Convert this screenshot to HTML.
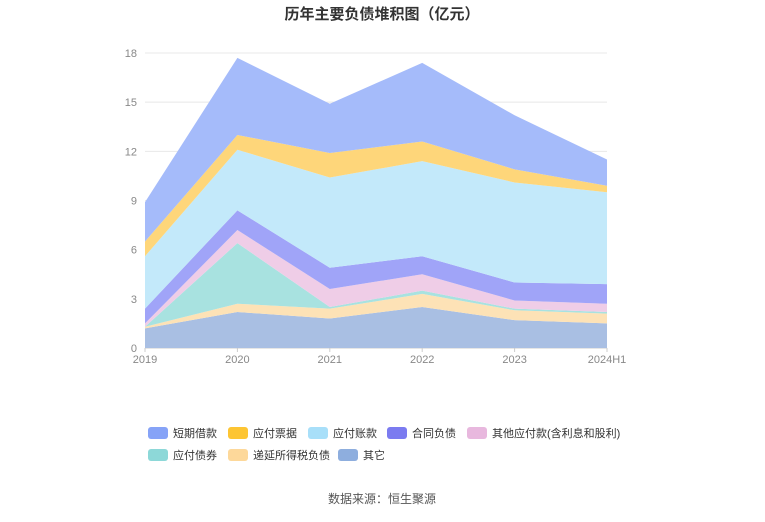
<!DOCTYPE html>
<html><head><meta charset="utf-8"><style>
body{margin:0;background:#fff;font-family:"Liberation Sans","Noto Sans CJK SC",sans-serif;}
</style></head><body>
<svg id="chart" width="765" height="517" xmlns="http://www.w3.org/2000/svg" style="font-family:'Liberation Sans','Noto Sans CJK SC',sans-serif">
<text x="382" y="19" text-anchor="middle" font-size="15" font-weight="bold" fill="#333">历年主要负债堆积图（亿元）</text>
<g id="grid"></g><g id="areas"></g><g id="axes"></g><g id="legend"></g>
<text x="382" y="503" text-anchor="middle" font-size="12" fill="#555">数据来源：恒生聚源</text>
</svg>
<script>
const categories=["2019","2020","2021","2022","2023","2024H1"];
const seriesNames=["其它","递延所得税负债","应付债券","其他应付款(含利息和股利)","合同负债","应付账款","应付票据","短期借款"];
const s_qita=[1.2,2.2,1.8,2.5,1.7,1.5];
const s_diyan=[0.1,0.5,0.6,0.8,0.6,0.6];
const s_zhaiquan=[0.0,3.7,0.1,0.2,0.1,0.1];
const s_qitayingfu=[0.2,0.8,1.1,1.0,0.5,0.5];
const s_hetong=[0.9,1.2,1.3,1.1,1.1,1.2];
const s_zhangkuan=[3.2,3.7,5.5,5.8,6.1,5.6];
const s_piaoju=[0.9,0.9,1.5,1.2,0.8,0.4];
const s_duanqi=[2.4,4.7,3.0,4.8,3.3,1.6];
const yTicks=[0,3,6,9,12,15,18];
const seriesData=[s_qita,s_diyan,s_zhaiquan,s_qitayingfu,s_hetong,s_zhangkuan,s_piaoju,s_duanqi];
const fills=["#a9bfe3","#fde2b6","#a8e2e0","#efcde7","#a0a4f8","#c3e9fa","#fed67a","#a5bbfa"];
const legendColors=["#8eaede","#fdd89a","#8dd8d8","#e8b8de","#7b7bf0","#a8dff9","#fdc533","#86a3f7"];
const NS="http://www.w3.org/2000/svg";
const x0=145,x1=607,yB=348,yT=53,yMax=18;
const xs=i=>x0+(x1-x0)*i/(categories.length-1);
const ys=v=>yB-(yB-yT)*v/yMax;
function mk(tag,attrs,parent){const e=document.createElementNS(NS,tag);for(const k in attrs)e.setAttribute(k,attrs[k]);parent.appendChild(e);return e;}
const grid=document.getElementById('grid'),axes=document.getElementById('axes'),areas=document.getElementById('areas'),legend=document.getElementById('legend');
yTicks.forEach(t=>{
 const l=mk('line',{x1:x0,x2:x1,y1:ys(t),y2:ys(t),stroke:t===0?'#ccc':'#e8e8e8'},grid);
 
 
 const tx=mk('text',{x:x0-8,y:ys(t)+4,'text-anchor':'end','font-size':11,fill:'#888'},axes);tx.textContent=t;
 
 
});
categories.forEach((c,i)=>{
 const tx=mk('text',{x:xs(i),y:yB+15,'text-anchor':'middle','font-size':11,fill:'#888'},axes);tx.textContent=c;
 
 
 const tk=mk('line',{x1:xs(i),x2:xs(i),y1:yB,y2:yB+4,stroke:'#ccc'},axes);
 
 
});
let base=categories.map(()=>0);
seriesData.forEach((s,k)=>{
 const top=base.map((b,i)=>b+s[i]);
 let d='M'+top.map((v,i)=>xs(i)+','+ys(v)).join('L');
 for(let i=categories.length-1;i>=0;i--)d+='L'+xs(i)+','+ys(base[i]);
 d+='Z';
 const p=mk('path',{d:d,fill:fills[k],stroke:'none'},areas);
 
 
 base=top;
});
const legendOrder=[7,6,5,4,3,2,1,0];
const pos=[[148,433],[228,433],[308,433],[387,433],[467,433],[148,455],[228,455],[338,455]];
legendOrder.forEach((k,j)=>{
 const g=mk('g',{},legend);
 
 
 mk('rect',{x:pos[j][0],y:pos[j][1]-6,width:20,height:12,rx:3,fill:legendColors[k]},g);
 const t=mk('text',{x:pos[j][0]+25,y:pos[j][1]+4,'font-size':11,fill:'#333'},g);t.textContent=seriesNames[k];
});
</script>
</body></html>
